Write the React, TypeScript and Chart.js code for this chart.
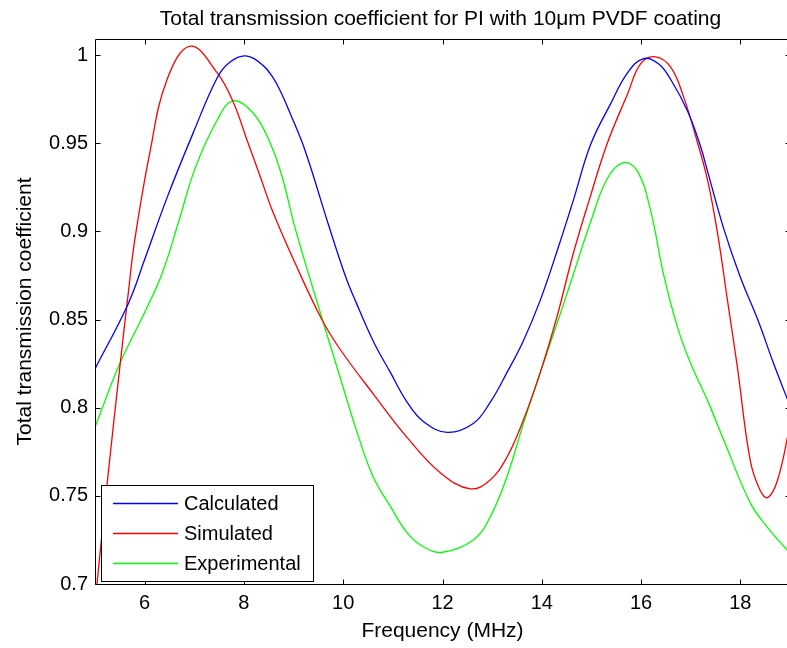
import React, { useEffect, useRef } from "react";
import { Chart, registerables } from "chart.js";

Chart.register(...registerables);

const TITLE = "Total transmission coefficient for PI with 10μm PVDF coating";
const X_TITLE = "Frequency (MHz)";
const Y_TITLE = "Total transmission coefficient";
const X_TICKS = [6, 8, 10, 12, 14, 16, 18];
const Y_TICKS = [0.7, 0.75, 0.8, 0.85, 0.9, 0.95, 1];

const calcX = [5.0, 5.67, 6.0, 6.45, 6.98, 7.46, 7.72, 8.04, 8.39, 8.59, 8.76, 8.93, 9.23, 9.7, 10.04, 10.24, 10.6, 10.95, 11.29, 11.62, 12.1, 12.62, 12.96, 13.3, 13.63, 13.97, 14.31, 14.64, 14.98, 15.38, 15.73, 16.05, 16.35, 16.6, 16.94, 17.2, 17.34, 17.66, 18.0, 18.35, 18.67, 19.0];
const calcY = [0.822, 0.859, 0.884, 0.919, 0.956, 0.987, 0.996, 0.9995, 0.994, 0.987, 0.978, 0.967, 0.946, 0.904, 0.875, 0.861, 0.838, 0.82, 0.803, 0.792, 0.786, 0.791, 0.803, 0.82, 0.838, 0.861, 0.889, 0.918, 0.949, 0.972, 0.99, 0.998, 0.995, 0.986, 0.968, 0.948, 0.934, 0.902, 0.874, 0.85, 0.825, 0.801];

const simX = [5.0, 5.26, 5.5, 5.67, 5.8, 6.1, 6.45, 6.92, 7.46, 7.79, 8.06, 8.33, 8.57, 9.03, 9.57, 9.94, 10.6, 11.29, 11.96, 12.56, 12.96, 13.3, 13.63, 13.97, 14.31, 14.64, 14.98, 15.32, 15.73, 15.99, 16.29, 16.6, 16.86, 17.14, 17.34, 17.54, 17.74, 17.94, 18.2, 18.4, 18.55, 18.75, 19.0];
const simY = [0.689, 0.761, 0.823, 0.865, 0.895, 0.944, 0.986, 1.005, 0.99, 0.973, 0.952, 0.931, 0.912, 0.882, 0.85, 0.833, 0.808, 0.783, 0.763, 0.754, 0.759, 0.772, 0.793, 0.82, 0.852, 0.888, 0.92, 0.95, 0.978, 0.995, 0.999, 0.993, 0.976, 0.95, 0.929, 0.899, 0.861, 0.823, 0.77, 0.753, 0.749, 0.759, 0.79];

const expX = [5.0, 5.5, 6.0, 6.35, 6.68, 7.02, 7.46, 7.78, 8.19, 8.53, 8.77, 9.03, 9.57, 9.94, 10.28, 10.6, 10.95, 11.29, 11.62, 12.0, 12.62, 12.96, 13.3, 13.63, 13.97, 14.31, 14.64, 14.98, 15.32, 15.65, 15.93, 16.19, 16.45, 16.73, 17.0, 17.34, 17.66, 18.2, 18.55, 18.95];
const expY = [0.789, 0.825, 0.854, 0.876, 0.905, 0.936, 0.963, 0.974, 0.967, 0.95, 0.931, 0.902, 0.851, 0.817, 0.786, 0.761, 0.744, 0.729, 0.721, 0.718, 0.725, 0.738, 0.761, 0.791, 0.82, 0.848, 0.876, 0.905, 0.93, 0.939, 0.934, 0.912, 0.876, 0.846, 0.825, 0.804, 0.782, 0.746, 0.732, 0.719];

const SERIES = [
  { label: "Calculated", xs: calcX, ys: calcY, color: "#0000ff" },
  { label: "Simulated", xs: simX, ys: simY, color: "#ff0000" },
  { label: "Experimental", xs: expX, ys: expY, color: "#00ff00" },
];

const FONT = "'Liberation Sans', Arial, sans-serif";

const framePlugin = {
  id: "frame",
  afterDatasetsDraw(chart: any) {
    const { ctx, chartArea: a, scales } = chart;
    const L = Math.round(a.left) + 0.5;
    const R = Math.round(a.right) + 0.5;
    const T = Math.round(a.top) + 0.5;
    const B = Math.round(a.bottom) + 0.5;
    ctx.save();
    ctx.strokeStyle = "#000";
    ctx.lineWidth = 1;
    ctx.beginPath();
    ctx.rect(L, T, R - L, B - T);
    const tl = 5;
    for (const v of X_TICKS) {
      const px = Math.round(scales.x.getPixelForValue(v)) + 0.5;
      ctx.moveTo(px, B);
      ctx.lineTo(px, B - tl);
      ctx.moveTo(px, T);
      ctx.lineTo(px, T + tl);
    }
    for (const v of Y_TICKS) {
      const py = Math.round(scales.y.getPixelForValue(v)) + 0.5;
      ctx.moveTo(L, py);
      ctx.lineTo(L + tl, py);
      ctx.moveTo(R, py);
      ctx.lineTo(R - tl, py);
    }
    ctx.stroke();

    // legend
    const lx = 101.5, ly = 485.5, lw = 212, lh = 96;
    ctx.fillStyle = "#fff";
    ctx.fillRect(lx, ly, lw, lh);
    ctx.strokeStyle = "#000";
    ctx.strokeRect(lx, ly, lw, lh);
    const rows = [503, 533, 563];
    ctx.font = `20px ${FONT}`;
    ctx.textBaseline = "middle";
    ctx.textAlign = "left";
    SERIES.forEach((s, i) => {
      ctx.strokeStyle = s.color;
      ctx.lineWidth = 1.3;
      ctx.beginPath();
      ctx.moveTo(113, rows[i] + 0.5);
      ctx.lineTo(178, rows[i] + 0.5);
      ctx.stroke();
      ctx.fillStyle = "#000";
      ctx.fillText(s.label, 184, rows[i] + 1);
    });

    // title
    ctx.font = `21px ${FONT}`;
    ctx.textAlign = "center";
    ctx.textBaseline = "alphabetic";
    ctx.fillStyle = "#000";
    ctx.fillText(TITLE, (a.left + a.right) / 2 - 2, 25);
    ctx.restore();
  },
};

export default function App() {
  const ref = useRef<HTMLCanvasElement | null>(null);
  useEffect(() => {
    if (!ref.current) return;
    const chart = new Chart(ref.current, {
      type: "line",
      data: {
        datasets: SERIES.map((s) => ({
          label: s.label,
          data: s.xs.map((x, i) => ({ x, y: s.ys[i] })),
          borderColor: s.color,
          backgroundColor: s.color,
          borderWidth: 1.3,
          pointRadius: 0,
          tension: 0.4,
          fill: false,
        })),
      },
      options: {
        animation: false,
        responsive: false,
        devicePixelRatio: 1,
        layout: { padding: { left: 0, top: 39, right: 10, bottom: 0 } },
        plugins: { legend: { display: false }, title: { display: false }, tooltip: { enabled: false } },
        scales: {
          x: {
            type: "linear",
            min: 5,
            max: 19,
            afterFit: (s: any) => { s.height = 64; },
            afterBuildTicks: (s: any) => { s.ticks = X_TICKS.map((v) => ({ value: v })); },
            grid: { display: false, drawTicks: false },
            border: { display: false },
            ticks: { padding: 7, color: "#000", font: { family: FONT, size: 20 }, callback: (v: any) => String(v) },
            title: { display: true, text: X_TITLE, color: "#000", font: { family: FONT, size: 21 }, padding: { top: 0, bottom: 4 } },
          },
          y: {
            type: "linear",
            min: 0.7,
            max: 1.0091,
            afterFit: (s: any) => { s.width = 95; },
            afterBuildTicks: (s: any) => { s.ticks = Y_TICKS.map((v) => ({ value: v })); },
            grid: { display: false, drawTicks: false },
            border: { display: false },
            ticks: { padding: 7, color: "#000", font: { family: FONT, size: 20 }, callback: (v: any) => String(Number(Number(v).toFixed(2))) },
            title: { display: true, text: Y_TITLE, color: "#000", font: { family: FONT, size: 21 }, padding: { top: 13, bottom: 0 } },
          },
        },
      },
      plugins: [framePlugin],
    });
    return () => chart.destroy();
  }, []);
  return (
    <div style={{ position: "absolute", left: 0, top: 0, width: 787, height: 648, overflow: "hidden", background: "#fff" }}>
      <canvas ref={ref} width={800} height={648} style={{ width: 800, height: 648, display: "block" }} />
    </div>
  );
}
